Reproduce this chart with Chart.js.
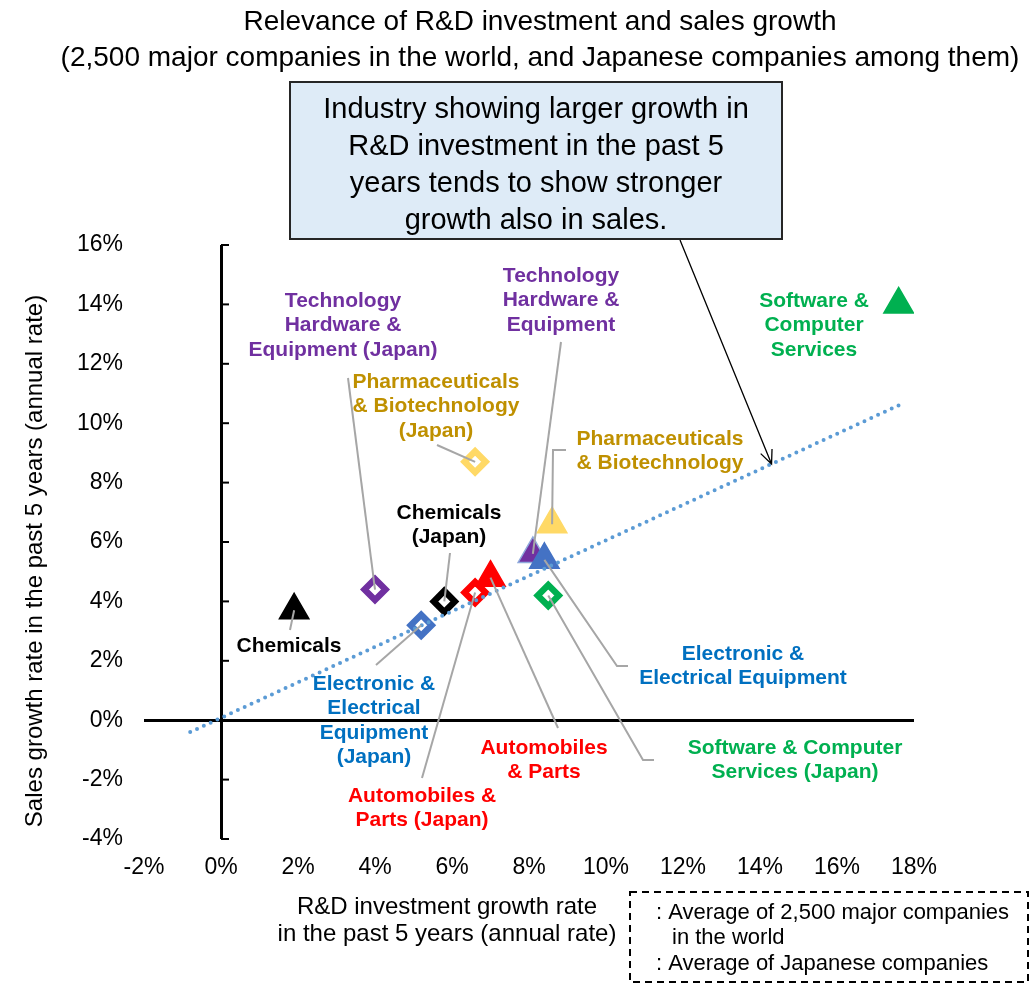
<!DOCTYPE html>
<html>
<head>
<meta charset="utf-8">
<script src="https://cdn.jsdelivr.net/npm/chart.js@4.4.0/dist/chart.umd.min.js"></script>
<style>
  html, body { margin: 0; padding: 0; background: #fff; }
  canvas { display: block; }
</style>
</head>
<body>
<canvas id="chart" width="1033" height="986"></canvas>
<script>
const FONT = "'Liberation Sans', Arial, sans-serif";

// data (percent per year)
const industries = ['Chemicals', 'Technology Hardware & Equipment', 'Electronic & Electrical Equipment',
  'Pharmaceuticals & Biotechnology', 'Automobiles & Parts', 'Software & Computer Services'];
const worldRD = [1.9, 8.1, 8.4, 8.6, 7.0, 17.6];
const worldSales = [3.7, 5.6, 5.4, 6.6, 4.8, 14.0];
const japanRD = [5.8, 4.0, 5.2, 6.6, 6.6, 8.5];
const japanSales = [4.0, 4.4, 3.2, 8.7, 4.3, 4.2];
const trendRD = [-0.8, 17.6];
const trendSales = [-0.4, 10.6];
const xTicks = [-2, 0, 2, 4, 6, 8, 10, 12, 14, 16, 18];
const yTicks = [-4, -2, 0, 2, 4, 6, 8, 10, 12, 14, 16];

const markerColors = ['#000000', '#7030A0', '#4472C4', '#FFD966', '#FF0000', '#00B050'];
const textColors = ['#000000', '#7030A0', '#0070C0', '#BF9000', '#FF0000', '#00B050'];

// label placement (pixels) and leader line bends, same order as industries
const worldLabels = [
  { lines: ['Chemicals'], x: 289, y: 646, leader: [[290, 630]] },
  { lines: ['Technology', 'Hardware &', 'Equipment'], x: 561, y: 276, leader: [[561, 342]] },
  { lines: ['Electronic &', 'Electrical Equipment'], x: 743, y: 654, leader: [[628, 666], [617, 666]] },
  { lines: ['Pharmaceuticals', '& Biotechnology'], x: 660, y: 439, leader: [[566, 450], [553, 450]] },
  { lines: ['Automobiles', '& Parts'], x: 544, y: 748, leader: [[558, 728]] },
  { lines: ['Software &', 'Computer', 'Services'], x: 814, y: 301, leader: null }
];
const japanLabels = [
  { lines: ['Chemicals', '(Japan)'], x: 449, y: 513, leader: [[450, 553]] },
  { lines: ['Technology', 'Hardware &', 'Equipment (Japan)'], x: 343, y: 301, leader: [[348, 378]] },
  { lines: ['Electronic &', 'Electrical', 'Equipment', '(Japan)'], x: 374, y: 684, leader: [[376, 665]] },
  { lines: ['Pharmaceuticals', '& Biotechnology', '(Japan)'], x: 436, y: 382, leader: [[437, 445]] },
  { lines: ['Automobiles &', 'Parts (Japan)'], x: 422, y: 796, leader: [[422, 778]] },
  { lines: ['Software & Computer', 'Services (Japan)'], x: 795, y: 748, leader: [[654, 760], [643, 760]] }
];

const pct = v => v + '%';

const annotations = {
  id: 'annotations',
  beforeDatasetsDraw(chart) {
    const ctx = chart.ctx;
    const xs = chart.scales.x, ys = chart.scales.y;
    const x0 = xs.getPixelForValue(0);
    // small ticks on the vertical axis
    ctx.save();
    ctx.strokeStyle = '#000';
    ctx.lineWidth = 2;
    yTicks.forEach(v => {
      const py = ys.getPixelForValue(v);
      ctx.beginPath();
      ctx.moveTo(x0, py);
      ctx.lineTo(x0 + 8, py);
      ctx.stroke();
    });
    ctx.restore();
  },
  afterDatasetsDraw(chart) {
    const ctx = chart.ctx;
    const xs = chart.scales.x, ys = chart.scales.y;

    const drawLabels = (labels, rd, sales) => {
      labels.forEach((lab, i) => {
        if (lab.leader) {
          ctx.save();
          ctx.strokeStyle = '#A6A6A6';
          ctx.lineWidth = 2;
          ctx.beginPath();
          ctx.moveTo(lab.leader[0][0], lab.leader[0][1]);
          lab.leader.slice(1).forEach(p => ctx.lineTo(p[0], p[1]));
          ctx.lineTo(xs.getPixelForValue(rd[i]), ys.getPixelForValue(sales[i]));
          ctx.stroke();
          ctx.restore();
        }
        ctx.save();
        ctx.fillStyle = textColors[i];
        ctx.font = 'bold 21px ' + FONT;
        ctx.textAlign = 'center';
        ctx.textBaseline = 'middle';
        lab.lines.forEach((t, k) => ctx.fillText(t, lab.x, lab.y + k * 24.5));
        ctx.restore();
      });
    };
    drawLabels(japanLabels, japanRD, japanSales);
    drawLabels(worldLabels, worldRD, worldSales);
  },
  afterDraw(chart) {
    const ctx = chart.ctx;
    const xs = chart.scales.x, ys = chart.scales.y;
    ctx.save();
    ctx.fillStyle = '#000';
    ctx.textAlign = 'center';
    ctx.textBaseline = 'middle';

    // title
    ctx.font = '28px ' + FONT;
    ctx.fillText('Relevance of R&D investment and sales growth', 540, 22);
    ctx.fillText('(2,500 major companies in the world, and Japanese companies among them)', 540, 58);

    // message box
    ctx.fillStyle = '#DEEBF7';
    ctx.fillRect(290, 82, 492, 157);
    ctx.strokeStyle = '#262626';
    ctx.lineWidth = 2;
    ctx.strokeRect(290, 82, 492, 157);
    ctx.fillStyle = '#000';
    ctx.font = '29px ' + FONT;
    ['Industry showing larger growth in', 'R&D investment in the past 5',
      'years tends to show stronger', 'growth also in sales.'].forEach((t, k) => {
      ctx.fillText(t, 536, 110 + k * 37);
    });

    // arrow from box to trend line
    const tipRD = 14.3;
    const tipSales = trendSales[0] + (tipRD - trendRD[0]) * (trendSales[1] - trendSales[0]) / (trendRD[1] - trendRD[0]);
    const tx = xs.getPixelForValue(tipRD), ty = ys.getPixelForValue(tipSales);
    const sx = 680, sy = 240;
    const ang = Math.atan2(ty - sy, tx - sx);
    ctx.strokeStyle = '#000';
    ctx.lineWidth = 1.3;
    ctx.beginPath();
    ctx.moveTo(sx, sy);
    ctx.lineTo(tx, ty);
    ctx.moveTo(tx - 15 * Math.cos(ang - 0.42), ty - 15 * Math.sin(ang - 0.42));
    ctx.lineTo(tx, ty);
    ctx.lineTo(tx - 15 * Math.cos(ang + 0.42), ty - 15 * Math.sin(ang + 0.42));
    ctx.stroke();

    // axis titles
    ctx.font = '24px ' + FONT;
    ctx.fillText('R&D investment growth rate', 447, 907);
    ctx.fillText('in the past 5 years (annual rate)', 447, 934);
    ctx.save();
    ctx.translate(35, 561);
    ctx.rotate(-Math.PI / 2);
    ctx.fillText('Sales growth rate in the past 5 years (annual rate)', 0, 0);
    ctx.restore();

    // legend box
    ctx.setLineDash([7, 5]);
    ctx.lineWidth = 2;
    ctx.strokeRect(630, 892, 398, 90);
    ctx.setLineDash([]);
    ctx.textAlign = 'left';
    ctx.font = '22px ' + FONT;
    ctx.fillText(': Average of 2,500 major companies', 656, 913);
    ctx.fillText('in the world', 672, 938);
    ctx.fillText(': Average of Japanese companies', 656, 964);
    ctx.restore();
  }
};

const zeroLine = c => (c.tick && c.tick.value === 0 ? '#000000' : 'rgba(0,0,0,0)');

new Chart(document.getElementById('chart'), {
  type: 'scatter',
  data: {
    datasets: [
      {
        label: 'Trend',
        data: trendRD.map((v, i) => ({ x: v, y: trendSales[i] })),
        showLine: true,
        borderColor: '#5B9BD5',
        borderWidth: 4,
        borderDash: [0, 7.5],
        borderCapStyle: 'round',
        pointRadius: 0,
        fill: false
      },
      {
        label: 'Average of 2,500 major companies in the world',
        data: worldRD.map((v, i) => ({ x: v, y: worldSales[i] })),
        pointStyle: 'triangle',
        pointRadius: 17,
        pointBackgroundColor: markerColors,
        pointBorderColor: markerColors.map((c, i) => (i === 1 ? '#8FAADC' : c)),
        pointBorderWidth: 1.5
      },
      {
        label: 'Average of Japanese companies',
        data: japanRD.map((v, i) => ({ x: v, y: japanSales[i] })),
        pointStyle: 'rectRot',
        pointRadius: 10.5,
        pointBackgroundColor: '#FFFFFF',
        pointBorderColor: markerColors,
        pointBorderWidth: 6.4
      }
    ]
  },
  options: {
    responsive: false,
    animation: false,
    layout: { padding: { top: 245, right: 119, bottom: 87, left: 0 } },
    plugins: {
      legend: { display: false },
      tooltip: { enabled: false },
      title: { display: false }
    },
    scales: {
      x: {
        type: 'linear',
        min: xTicks[0],
        max: xTicks[xTicks.length - 1],
        afterBuildTicks: s => { s.ticks = xTicks.map(v => ({ value: v })); },
        afterFit: s => { s.height = 60; },
        border: { display: false },
        grid: { color: zeroLine, lineWidth: 3, drawTicks: false },
        ticks: { callback: pct, padding: 15, color: '#000', font: { family: FONT, size: 23 }, maxRotation: 0 }
      },
      y: {
        type: 'linear',
        min: yTicks[0],
        max: yTicks[yTicks.length - 1],
        afterBuildTicks: s => { s.ticks = yTicks.map(v => ({ value: v })); },
        afterFit: s => { s.width = 144; },
        border: { display: false },
        grid: { color: zeroLine, lineWidth: 3, drawTicks: false },
        ticks: { callback: pct, padding: 21, color: '#000', font: { family: FONT, size: 23 } }
      }
    }
  },
  plugins: [annotations]
});
</script>
</body>
</html>
